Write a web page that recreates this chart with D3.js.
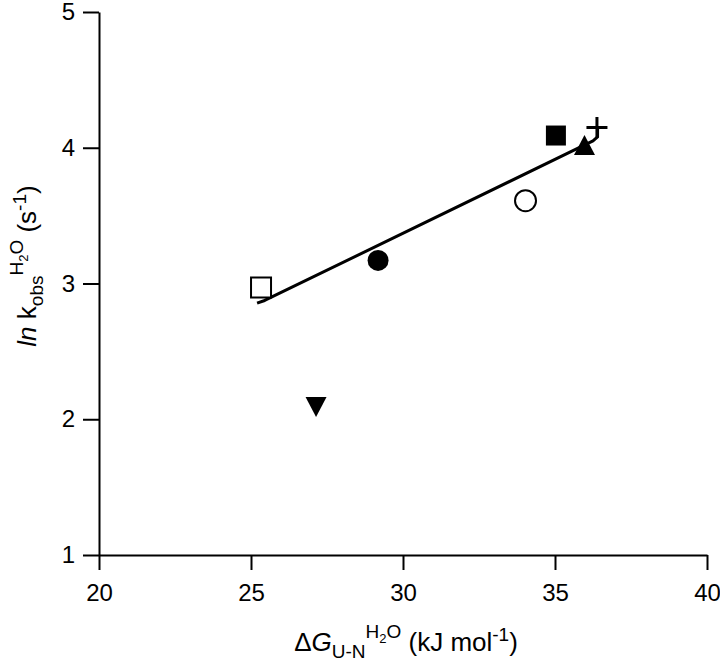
<!DOCTYPE html>
<html lang="en">
<head>
  <meta charset="UTF-8">
  <title>ln kobs vs dG</title>
  <script src="https://d3js.org/d3.v7.min.js"></script>
  <style>
    body { margin: 0; background: #fff; }
    text { font-family: "Liberation Sans", Arial, sans-serif; fill: #000; }
  </style>
</head>
<body>
  <div id="viz"></div>

  <script>
    // values
    const dG   = [25.33, 27.14, 29.18, 34.03, 35.03, 35.97, 36.38];
    const lnK  = [2.97,  2.09,  3.17,  3.61,  4.09,  4.02,  4.15];
    const kind = ['squareOpen', 'triangleDown', 'circleFilled', 'circleOpen',
                  'squareFilled', 'triangleUp', 'plus'];

    // regression line as drawn (with the little hooks at both ends)
    const fitX = [25.2, 25.45, 36.25, 36.4, 36.4];
    const fitY = [2.855, 2.875, 4.05, 4.08, 4.15];

    const xTicks = [20, 25, 30, 35, 40];
    const yTicks = [1, 2, 3, 4, 5];

    const W = 720, H = 664;

    const svg = d3.select('#viz')
      .append('svg')
        .attr('width', W)
        .attr('height', H);

    const x = d3.scaleLinear().domain([20, 40]).range([99, 707]);
    const y = d3.scaleLinear().domain([1, 5]).range([555, 12]);

    // axes
    const xAxis = svg.append('g')
      .attr('transform', 'translate(0,' + y(1) + ')')
      .call(d3.axisBottom(x).tickValues(xTicks).tickFormat(d3.format('d'))
        .tickSize(15).tickSizeOuter(0).tickPadding(14));

    const yAxis = svg.append('g')
      .attr('transform', 'translate(' + x(20) + ',0)')
      .call(d3.axisLeft(y).tickValues(yTicks).tickFormat(d3.format('d'))
        .tickSize(16).tickSizeOuter(0).tickPadding(8));

    [xAxis, yAxis].forEach(a => {
      a.select('.domain').attr('stroke', '#000').attr('stroke-width', 2);
      a.selectAll('.tick line').attr('stroke', '#000').attr('stroke-width', 2);
      a.selectAll('.tick text')
        .attr('font-size', 24)
        .attr('font-family', '"Liberation Sans", Arial, sans-serif')
        .attr('fill', '#000');
    });

    // fit line
    svg.append('path')
      .datum(d3.range(fitX.length))
      .attr('d', d3.line().x(i => x(fitX[i])).y(i => y(fitY[i])))
      .attr('fill', 'none')
      .attr('stroke', '#000')
      .attr('stroke-width', 3)
      .attr('stroke-linejoin', 'round');

    // markers
    function shape(k) {
      const s = 10, c = 10.5;
      if (k.startsWith('square')) return `M${-s},${-s}H${s}V${s}H${-s}Z`;
      if (k.startsWith('circle')) return `M${c},0A${c},${c} 0 1,1 ${-c},0A${c},${c} 0 1,1 ${c},0Z`;
      if (k === 'triangleUp') return `M0,-10L10.5,10L-10.5,10Z`;
      if (k === 'triangleDown') return `M0,10L10.5,-10L-10.5,-10Z`;
      return 'M-10.5,0H10.5M0,-10.5V10.5';
    }

    svg.append('g')
      .selectAll('path')
      .data(d3.range(dG.length))
      .join('path')
        .attr('transform', i => `translate(${x(dG[i])},${y(lnK[i])})`)
        .attr('d', i => shape(kind[i]))
        .attr('fill', i => kind[i].endsWith('Open') ? '#fff' : (kind[i] === 'plus' ? 'none' : '#000'))
        .attr('stroke', '#000')
        .attr('stroke-width', i => kind[i] === 'plus' ? 3 : (kind[i].endsWith('Open') ? 2 : 0));

    // x axis title
    const xt = svg.append('text')
      .attr('x', 406)
      .attr('y', 651)
      .attr('text-anchor', 'middle')
      .attr('font-size', 26);
    xt.append('tspan').text('\u0394');
    xt.append('tspan').attr('font-style', 'italic').text('G');
    xt.append('tspan').attr('font-size', 19).attr('dy', 7).text('U-N');
    xt.append('tspan').attr('font-size', 19).attr('dy', -20).text('H');
    xt.append('tspan').attr('font-size', 13).attr('dy', 5).text('2');
    xt.append('tspan').attr('font-size', 19).attr('dy', -5).text('O');
    xt.append('tspan').attr('dy', 13).text(' (kJ mol');
    xt.append('tspan').attr('font-size', 19).attr('dy', -10).text('-1');
    xt.append('tspan').attr('dy', 10).text(')');

    // y axis title
    const yt = svg.append('text')
      .attr('transform', 'translate(36,266) rotate(-90)')
      .attr('text-anchor', 'middle')
      .attr('font-size', 26);
    yt.append('tspan').attr('font-style', 'italic').text('ln');
    yt.append('tspan').text(' k');
    yt.append('tspan').attr('font-size', 19).attr('dy', 7).text('obs');
    yt.append('tspan').attr('font-size', 19).attr('dy', -20).text('H');
    yt.append('tspan').attr('font-size', 13).attr('dy', 5).text('2');
    yt.append('tspan').attr('font-size', 19).attr('dy', -5).text('O');
    yt.append('tspan').attr('dy', 13).text(' (s');
    yt.append('tspan').attr('font-size', 19).attr('dy', -10).text('-1');
    yt.append('tspan').attr('dy', 10).text(')');
  </script>
</body>
</html>
